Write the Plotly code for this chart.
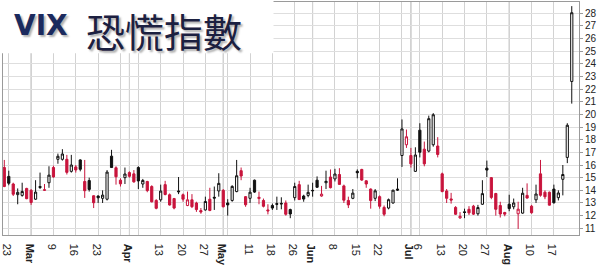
import pandas as pd
import plotly.graph_objects as go

# ---------------- data ----------------
holidays = ["2015-04-03", "2015-05-25", "2015-07-03"]
dates = [d for d in pd.bdate_range("2015-02-20", "2015-08-21")
         if d.strftime("%Y-%m-%d") not in holidays]

prev_close_start = 15.29  # close of the day before the first candle

opens = [15.8, 15.1, 14.5, 13.66, 13.6, 14.15, 14.0, 13.3, 14.3, 14.0,
         14.6, 15.8, 16.45, 16.45, 16.45, 15.5, 15.85, 16.4, 14.7, 14.77,
         13.57, 13.55, 13.37, 13.3, 16.7, 15.78, 14.8, 15.0, 15.4, 15.3,
         15.8, 14.5, 14.7, 14.3, 13.2, 13.25, 14.45, 13.65, 13.35, 13.95,
         13.65, 12.8, 13.25, 13.0, 12.4, 12.45, 13.3, 13.45, 13.95, 14.0,
         13.0, 13.2, 13.9, 15.55, 13.5, 13.37, 14.8, 13.35, 13.2, 12.45,
         12.8, 12.95, 12.97, 13.0, 12.48, 13.42, 14.45, 13.55, 13.6, 14.0,
         14.8, 13.55, 14.6, 15.05, 14.9, 15.25, 14.35, 13.2, 13.37, 15.5,
         15.65, 14.75, 14.1, 13.37, 13.5, 12.65, 12.6, 13.0, 14.1, 16.75,
         17.6, 16.75, 15.5, 18.75, 17.25, 17.1, 17.6, 17.5, 15.3, 13.95,
         13.32, 12.65, 11.82, 12.3, 12.5, 12.75, 12.15, 12.9, 15.75, 15.0,
         13.75, 12.8, 12.25, 12.9, 12.7, 12.15, 12.2, 13.6, 12.75, 13.25,
         15.3, 13.85, 13.85, 14.1, 13.42, 14.87, 16.6, 22.6]
highs = [16.4, 15.55, 14.6, 14.15, 14.6, 14.2, 14.1, 14.8, 15.4, 14.5,
         15.9, 15.95, 16.9, 17.25, 16.8, 16.8, 16.0, 16.45, 16.4, 15.0,
         13.6, 13.6, 14.0, 15.6, 17.2, 15.9, 14.95, 15.8, 15.5, 15.6,
         15.9, 14.9, 14.75, 14.4, 13.3, 14.45, 14.75, 13.75, 13.4, 15.05,
         13.75, 13.9, 13.7, 13.1, 12.6, 13.5, 14.2, 14.3, 15.35, 14.1,
         13.3, 14.4, 16.4, 15.8, 13.55, 14.2, 14.85, 13.9, 13.35, 12.9,
         12.95, 13.5, 13.45, 13.2, 12.55, 14.6, 14.75, 13.65, 14.45, 14.6,
         15.1, 14.35, 15.55, 15.65, 15.7, 15.75, 14.45, 13.5, 14.1, 15.65,
         15.7, 14.8, 14.15, 14.1, 13.6, 12.8, 13.35, 14.05, 14.95, 19.6,
         18.8, 17.35, 17.4, 19.3, 17.85, 19.9, 20.1, 18.2, 15.4, 14.1,
         13.8, 12.75, 12.28, 12.55, 12.75, 12.85, 12.85, 14.8, 16.35, 15.05,
         13.8, 13.1, 12.3, 13.65, 13.35, 13.1, 14.2, 14.55, 12.85, 14.45,
         16.4, 14.0, 13.9, 14.45, 14.0, 16.0, 19.3, 28.55]
lows = [14.25, 14.4, 13.55, 12.9, 13.5, 13.3, 12.85, 13.25, 14.1, 13.95,
        14.2, 15.0, 16.1, 16.35, 15.25, 15.4, 15.4, 15.5, 13.4, 13.9,
        12.6, 13.0, 13.0, 13.2, 15.8, 14.45, 14.3, 14.5, 15.0, 14.6,
        14.1, 14.2, 13.85, 13.05, 12.5, 13.1, 13.6, 12.8, 12.5, 13.7,
        13.1, 12.75, 12.6, 12.3, 12.15, 12.4, 12.35, 12.45, 13.5, 12.65,
        12.0, 13.1, 13.85, 14.8, 12.7, 13.0, 13.8, 12.9, 12.65, 12.1,
        12.45, 12.45, 12.5, 12.0, 11.8, 13.2, 13.25, 13.1, 13.45, 13.5,
        14.2, 13.5, 14.1, 14.15, 14.7, 14.45, 13.0, 12.6, 13.3, 14.95,
        14.75, 14.2, 12.55, 13.15, 12.55, 11.95, 12.5, 12.95, 13.95, 15.85,
        17.35, 15.8, 15.45, 16.6, 15.9, 17.0, 17.45, 16.6, 13.85, 13.0,
        12.95, 12.05, 11.75, 11.8, 12.05, 12.05, 12.0, 12.85, 15.05, 13.3,
        12.0, 11.85, 11.95, 12.35, 12.5, 10.95, 12.15, 13.35, 12.15, 13.0,
        13.5, 13.3, 12.8, 12.95, 13.2, 13.6, 16.15, 20.85]
closes = [14.30, 14.56, 13.69, 13.84, 13.91, 13.34, 13.04, 13.86, 14.23, 14.04,
          15.20, 15.06, 16.69, 16.87, 15.42, 16.00, 15.61, 15.66, 13.97, 14.07,
          13.02, 13.41, 13.62, 15.44, 15.80, 15.07, 14.51, 15.29, 15.11, 14.67,
          14.74, 14.78, 13.98, 13.09, 12.58, 13.94, 13.67, 12.84, 12.60, 13.89,
          13.30, 13.25, 12.71, 12.48, 12.29, 13.12, 12.41, 13.39, 14.55, 12.70,
          12.85, 14.31, 15.15, 15.13, 12.86, 13.85, 13.86, 13.45, 12.74, 12.38,
          12.60, 12.90, 12.93, 12.11, 12.13, 14.30, 13.27, 13.31, 13.84, 13.97,
          14.24, 13.70, 14.71, 14.21, 15.29, 14.47, 13.22, 12.85, 13.78, 15.39,
          14.81, 14.50, 13.19, 13.96, 12.74, 12.11, 13.26, 14.01, 14.02, 18.85,
          18.23, 16.09, 16.79, 17.01, 16.09, 19.66, 19.97, 16.83, 13.90, 13.37,
          13.23, 12.11, 11.95, 12.25, 12.22, 12.12, 12.64, 13.74, 15.60, 13.44,
          12.50, 12.13, 12.12, 12.56, 13.00, 12.51, 13.77, 13.39, 12.23, 13.71,
          13.61, 13.49, 12.83, 13.02, 13.79, 15.25, 19.14, 28.03]

label_dates = ["2015-02-23", "2015-03-02", "2015-03-09", "2015-03-16", "2015-03-23",
               "2015-04-01", "2015-04-13", "2015-04-20", "2015-04-27", "2015-05-01",
               "2015-05-11", "2015-05-18", "2015-05-26", "2015-06-01", "2015-06-08",
               "2015-06-15", "2015-06-22", "2015-07-01", "2015-07-06", "2015-07-13",
               "2015-07-20", "2015-07-27", "2015-08-03", "2015-08-10", "2015-08-17"]
label_texts = ["23", "<b>Mar</b>", "9", "16", "23", "<b>Apr</b>", "13", "20", "27",
               "<b>May</b>", "11", "18", "26", "<b>Jun</b>", "8", "15", "22",
               "<b>Jul</b>", "6", "13", "20", "27", "<b>Aug</b>", "10", "17"]
y_ticks = list(range(11, 29))

title_en = "VIX"
title_zh = "恐慌指數"

# ---------------- derived ----------------
n = len(dates)
idx = list(range(n))
date_str = [d.strftime("%Y-%m-%d") for d in dates]

prev = [prev_close_start] + closes[:-1]
is_red = [c < p for c, p in zip(closes, prev)]

week_or_month = []
month_start = []
for i in range(1, n):
    if dates[i].weekday() < dates[i - 1].weekday() or dates[i].month != dates[i - 1].month:
        week_or_month.append(i)
    if dates[i].month != dates[i - 1].month:
        month_start.append(i)
lab_map = {date_str.index(d): t for d, t in zip(label_dates, label_texts)}
tickvals = sorted(set(week_or_month) | set(lab_map))
ticktext = [lab_map.get(v, "") for v in tickvals]

RED = "#c8143c"
BLK = "#111111"

fig = go.Figure()
for red, col in [(False, BLK), (True, RED)]:
    sel = [i for i in idx if is_red[i] == red]
    fig.add_trace(go.Candlestick(
        x=sel,
        open=[opens[i] for i in sel], high=[highs[i] for i in sel],
        low=[lows[i] for i in sel], close=[closes[i] for i in sel],
        increasing=dict(line=dict(color=col, width=1), fillcolor="white"),
        decreasing=dict(line=dict(color=col, width=1), fillcolor=col),
        whiskerwidth=0, showlegend=False, hoverinfo="skip",
    ))

# darker month separators
for m in month_start:
    fig.add_shape(type="line", xref="x", yref="paper", x0=m, x1=m, y0=0, y1=1,
                  line=dict(color="#a8a8a8", width=1), layer="below")

# pixel geometry
W, H = 600, 267
L, R, T, B = 2, 21, 1, 12
pw, ph = W - L - R, H - T - B
def px_x(p):
    return (p - L) / pw
def px_y(p):
    return 1 - (p - T) / ph

# title box
fig.add_shape(type="rect", xref="paper", yref="paper",
              x0=px_x(0), x1=px_x(273), y0=px_y(57), y1=px_y(0),
              fillcolor="white", line=dict(width=0), layer="above")
fig.add_annotation(xref="paper", yref="paper", x=px_x(11), y=px_y(27),
                   xanchor="left", yanchor="middle", showarrow=False,
                   text="<b>%s</b>" % title_en,
                   font=dict(family="DejaVu Sans", size=28, color="#1b2a5e",
                             shadow="2px 2px 2px #b0b0b0"))
fig.add_annotation(xref="paper", yref="paper", x=px_x(83), y=px_y(31),
                   xanchor="left", yanchor="middle", showarrow=False,
                   text=title_zh,
                   font=dict(family="Noto Sans CJK TC", size=39, color="#1c2040",
                             shadow="2px 2px 2px #b0b0b0"))

x0 = (L - 3.3) / 4.476
x1 = (W - R - 3.3) / 4.476
y_top = 20 + (123.5 - T) / 13.8
y_bot = 20 - (H - B - 123.5) / 13.8

fig.update_layout(
    width=W, height=H, margin=dict(l=L, r=R, t=T, b=B),
    paper_bgcolor="white", plot_bgcolor="white",
    font=dict(family="Liberation Sans, Arial", size=10, color="#222"),
    xaxis=dict(range=[x0, x1], rangeslider=dict(visible=False),
               tickmode="array", tickvals=tickvals, ticktext=ticktext,
               showgrid=True, gridcolor="#d2d2d2", gridwidth=1,
               zeroline=False, showline=True, linecolor="#9a9a9a", mirror=True,
               ticks="", tickfont=dict(size=11, color="#222")),
    yaxis=dict(range=[y_bot, y_top], side="right", tickmode="array",
               tickvals=y_ticks, showgrid=True, gridcolor="#dedede", gridwidth=1,
               zeroline=False, showline=True, linecolor="#9a9a9a", mirror=True,
               ticks="outside", ticklen=3, tickcolor="#9a9a9a",
               tickfont=dict(size=10, color="#222")),
)

fig.write_html("out.html")
